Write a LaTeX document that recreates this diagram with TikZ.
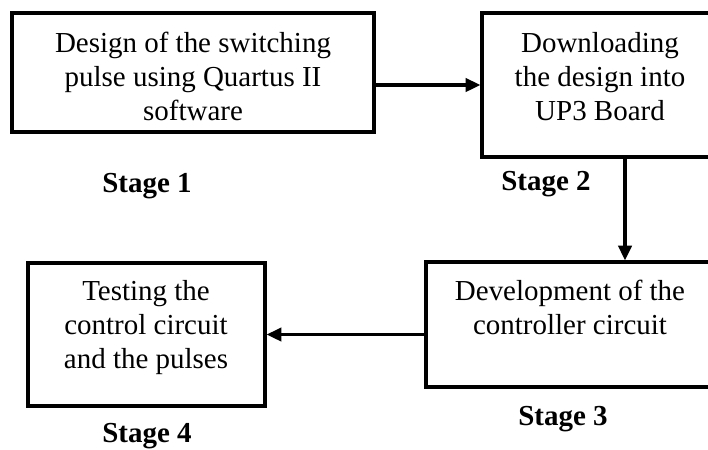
\documentclass[tikz,border=0pt]{standalone}
\usepackage{fontspec}
\setmainfont{Liberation Serif}
\usetikzlibrary{arrows.meta,calc}

\begin{document}
\begin{tikzpicture}[x=0.025cm,y=-0.025cm,
    arr/.style={line width=2.3pt,-{Triangle[length=10.5pt,width=9.5pt]}}]
        \useasboundingbox (0,0) rectangle (708,449);

        \begin{scope}[every node/.style={draw,rectangle,line width=2.3pt,inner sep=0pt}]
          \node[minimum width=9.05cm,minimum height=2.975cm]  (b1)  at (193,72.5)  {};
          \node[minimum width=5.9cm,minimum height=3.6cm]    (b2)  at (600,85)  {};
          \node[minimum width=7.2cm,minimum height=3.125cm]  (b3)  at (570,324.5)  {};
          \node[minimum width=5.925cm,minimum height=3.575cm] (b4)  at (146.5,334.5)  {};
        \end{scope}

        \begin{scope}[every node/.style={align=center,anchor=north,inner sep=0pt,
            font=\fontsize{20.6}{24.2}\selectfont}]
          \node (t1)  at (193,32)  {Design of the switching\\pulse using Quartus II\\software};
          \node (t2)  at (600,32)  {Downloading\\the design into\\UP3 Board};
          \node (t3)  at (570,280)  {Development of the\\controller circuit};
          \node (t4)  at (146,280)  {Testing the\\control circuit\\and the pulses};
        \end{scope}

        \begin{scope}[every node/.style={anchor=base,inner sep=0pt,
            font=\fontsize{20.6}{24.2}\selectfont\bfseries}]
          \node (st1)  at (147,192)  {Stage 1};
          \node (st2)  at (546,190)  {Stage 2};
          \node (st3)  at (563,425)  {Stage 3};
          \node (st4)  at (147,442)  {Stage 4};
        \end{scope}

        \coordinate (c2) at ($(b2.south)+(25,0)$);

        \draw[arr] (b1.east |- b2.west) -- (b2.west);
        \draw[arr] (c2) -- (c2 |- b3.north);
        \draw[arr] (b3.west |- b4.east) -- (b4.east);

      \end{tikzpicture}
\end{document}
